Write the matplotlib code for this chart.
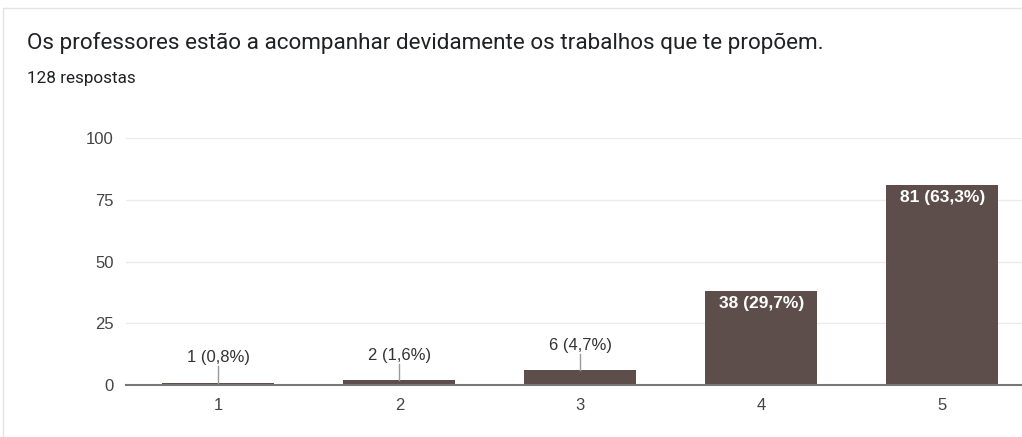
import matplotlib
matplotlib.use("Agg")
import matplotlib.pyplot as plt
from matplotlib.patches import Rectangle

# dados
categories = ["1", "2", "3", "4", "5"]
counts = [1, 2, 6, 38, 81]
labels = ["1 (0,8%)", "2 (1,6%)", "6 (4,7%)", "38 (29,7%)", "81 (63,3%)"]
yticks = [0, 25, 50, 75, 100]

bar_color = "#5e4e4b"
chart_font = "Liberation Sans"

fig = plt.figure(figsize=(10.22, 4.37), dpi=100)
fig.patch.set_facecolor("white")

# moldura do cartão
fig.patches.append(Rectangle((3 / 1022, -0.05), 1.2, 1 - 8 / 437 + 0.05,
                             transform=fig.transFigure, fill=False,
                             edgecolor="#e3e3e3", linewidth=1))

fig.text(27 / 1022, 1 - 43 / 437, "Os professores estão a acompanhar devidamente os trabalhos que te propõem.",
         fontsize=16.2, family="Roboto", color="#202124", va="center", ha="left")
fig.text(27 / 1022, 1 - 79 / 437, "128 respostas",
         fontsize=12.3, family="Roboto", color="#202124", va="center", ha="left")

ax = fig.add_axes([126 / 1022, 52 / 437, 1 - 126 / 1022, 247 / 437])
x = list(range(1, len(categories) + 1))
bars = ax.bar(x, counts, width=0.62, color=bar_color, zorder=3)

ax.set_xlim(0.49, 5.44)
ax.set_ylim(0, 100)
ax.set_yticks(yticks)
ax.set_xticks(x)
ax.set_xticklabels(categories)
ax.grid(axis="y", color="#ebebeb", linewidth=1, zorder=0)
ax.tick_params(length=0, labelsize=12, labelcolor="#444444")
ax.tick_params(axis="x", pad=9)
ax.tick_params(axis="y", pad=9)
for lab in ax.get_xticklabels() + ax.get_yticklabels():
    lab.set_family(chart_font)
for s in ["top", "right", "left"]:
    ax.spines[s].set_visible(False)
ax.spines["bottom"].set_color("#777777")
ax.spines["bottom"].set_linewidth(1.5)
ax.spines["bottom"].set_zorder(4)

for xi, v, lab in zip(x, counts, labels):
    if v < 20:
        ax.plot([xi, xi], [v, v + 6.5], color="#999999", linewidth=1, zorder=4)
        ax.text(xi, v + 7.0, lab, ha="center", va="bottom", fontsize=12,
                family=chart_font, color="#333333")
    else:
        ax.text(xi, v - 2, lab, ha="center", va="top", fontsize=12.5,
                family=chart_font, color="white", fontweight="bold", zorder=5)

fig.savefig("out.png", dpi=100)
